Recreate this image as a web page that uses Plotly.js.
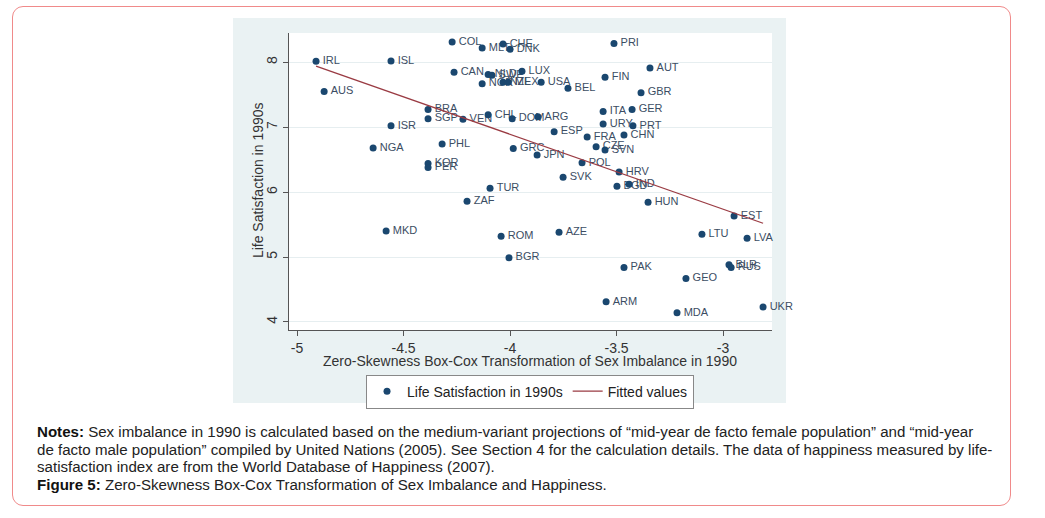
<!DOCTYPE html>
<html>
<head>
<meta charset="utf-8">
<script src="https://cdn.plot.ly/plotly-3.0.1.min.js"></script>
<style>
  html, body { margin: 0; padding: 0; background: #ffffff; }
  #wrap { position: relative; width: 1045px; height: 518px; overflow: hidden; background: #fff; }
  #frame { position: absolute; left: 12px; top: 6px; width: 999px; height: 500px; border: 1.5px solid #f08a8a; border-radius: 11px; box-sizing: border-box; }
  #panel { position: absolute; left: 233px; top: 18px; width: 553px; height: 385px; background: #eaf2f3; }
  #chart { position: absolute; left: 0; top: 0; width: 1045px; height: 518px; }
  #notes { position: absolute; left: 37px; top: 423px; width: 1000px; font-family: "Liberation Sans", Arial, sans-serif; font-size: 15.1px; line-height: 17.6px; color: #222; white-space: nowrap; }
  #notes b { color: #111; }
</style>
</head>
<body>
<div id="wrap">
  <div id="frame"></div>
  <div id="panel"></div>
  <div id="chart"></div>
  <div id="notes">
    <b>Notes:</b> Sex imbalance in 1990 is calculated based on the medium-variant projections of “mid-year de facto female population” and “mid-year<br>
    de facto male population” compiled by United Nations (2005). See Section 4 for the calculation details. The data of happiness measured by life-<br>
    satisfaction index are from the World Database of Happiness (2007).<br>
    <b>Figure 5:</b> Zero-Skewness Box-Cox Transformation of Sex Imbalance and Happiness.
  </div>
</div>
<script>
// ---- data ----
const countries = ["IRL","ISL","AUS","COL","MLT","CHE","DNK","PRI","CAN","NLD","SWE","NOR","NZL","MEX","LUX","USA","BEL","FIN","AUT","GBR",
  "ITA","GER","URY","PRT","ESP","FRA","CHN","CZE","SVN","GRC","JPN","POL","HRV","SVK","BGD","IND","HUN","EST","LTU","LVA",
  "AZE","ROM","BGR","PAK","GEO","BLR","RUS","ARM","MDA","UKR","MKD","ZAF","TUR","KOR","PER","NGA","PHL","ISR","BRA","SGP",
  "VEN","CHL","DOM","ARG"];
const sexImbalance = [-4.911,-4.559,-4.873,-4.272,-4.131,-4.033,-4.000,-3.512,-4.263,-4.103,-4.085,-4.131,-4.033,-4.009,-3.944,-3.854,-3.728,-3.554,-3.343,-3.385,
  -3.563,-3.427,-3.563,-3.423,-3.793,-3.638,-3.465,-3.596,-3.554,-3.985,-3.873,-3.662,-3.488,-3.751,-3.498,-3.441,-3.352,-2.948,-3.099,-2.887,
  -3.770,-4.042,-4.005,-3.465,-3.174,-2.972,-2.962,-3.549,-3.216,-2.812,-4.582,-4.202,-4.094,-4.385,-4.385,-4.643,-4.319,-4.559,-4.385,-4.385,
  -4.221,-4.103,-3.990,-3.869];
const lifeSatisfaction = [8.015,8.02,7.55,8.31,8.22,8.28,8.20,8.29,7.845,7.81,7.80,7.67,7.69,7.69,7.86,7.69,7.60,7.77,7.91,7.53,
  7.24,7.27,7.05,7.02,6.93,6.85,6.88,6.70,6.65,6.67,6.57,6.45,6.31,6.23,6.09,6.12,5.845,5.63,5.35,5.29,
  5.38,5.32,4.99,4.84,4.67,4.88,4.84,4.31,4.14,4.23,5.40,5.86,6.06,6.44,6.38,6.68,6.74,7.02,7.27,7.13,
  7.12,7.19,7.13,7.16];
const fittedX = [-4.911, -2.812];
const fittedY = [7.94, 5.52];
const xTicks = [-5, -4.5, -4, -3.5, -3];
const xTickText = ["-5", "-4.5", "-4", "-3.5", "-3"];
const yTicks = [4, 5, 6, 7, 8];
const yTickText = ["4", "5", "6", "7", "8"];
const xTitle = 'Zero-Skewness Box-Cox Transformation of Sex Imbalance in 1990';
const yTitle = 'Life Satisfaction in 1990s';

const FONT = '"Liberation Sans", Arial, sans-serif';
const NAVY = '#1a476f';

const traces = [
  {
    x: sexImbalance, y: lifeSatisfaction, text: countries,
    mode: 'markers+text', type: 'scatter', textposition: 'middle right',
    marker: { size: 9, color: 'rgba(0,0,0,0)' },
    textfont: { family: FONT, size: 11, color: '#3b4d63' },
    showlegend: false, hoverinfo: 'skip', cliponaxis: false
  },
  {
    x: sexImbalance, y: lifeSatisfaction, mode: 'markers', type: 'scatter',
    name: 'Life Satisfaction in 1990s',
    marker: { color: NAVY, size: 7 }, cliponaxis: false
  },
  {
    x: fittedX, y: fittedY, mode: 'lines', type: 'scatter',
    name: 'Fitted values',
    line: { color: '#9a3b43', width: 1.3 }
  }
];

const layout = {
  width: 1045, height: 518,
  margin: { l: 289, r: 273, t: 33, b: 188, pad: 0 },
  paper_bgcolor: 'rgba(0,0,0,0)',
  plot_bgcolor: '#ffffff',
  font: { family: FONT, color: '#333' },
  showlegend: true,
  xaxis: {
    range: [-5.038, -2.77],
    tickmode: 'array', tickvals: xTicks, ticktext: xTickText,
    ticks: 'outside', ticklen: 5, tickcolor: '#555', tickwidth: 1,
    showline: true, linecolor: '#555', linewidth: 1,
    showgrid: false, zeroline: false,
    tickfont: { family: FONT, size: 14, color: '#333' }
  },
  yaxis: {
    range: [3.876, 8.45],
    tickmode: 'array', tickvals: yTicks, ticktext: yTickText,
    tickangle: -90,
    ticks: 'outside', ticklen: 5, tickcolor: '#555', tickwidth: 1,
    showline: true, linecolor: '#555', linewidth: 1,
    showgrid: true, gridcolor: '#e6eef0', gridwidth: 1, zeroline: false,
    tickfont: { family: FONT, size: 14, color: '#333' }
  },
  annotations: [
    { text: xTitle, xref: 'paper', yref: 'paper', x: 0.499, y: -0.104, xanchor: 'center', yanchor: 'middle',
      showarrow: false, font: { family: FONT, size: 14, color: '#333' } },
    { text: yTitle, xref: 'paper', yref: 'paper', x: -0.064, y: 0.505, xanchor: 'center', yanchor: 'middle',
      textangle: -90, showarrow: false, font: { family: FONT, size: 14, color: '#333' } }
  ],
  legend: {
    orientation: 'h', x: 0.499, xanchor: 'center', y: -0.15, yanchor: 'top',
    bgcolor: '#ffffff', bordercolor: '#888', borderwidth: 1,
    font: { family: FONT, size: 14, color: '#222' },
    itemwidth: 30
  }
};

Plotly.newPlot('chart', traces, layout, { staticPlot: true, displayModeBar: false });
</script>
</body>
</html>
